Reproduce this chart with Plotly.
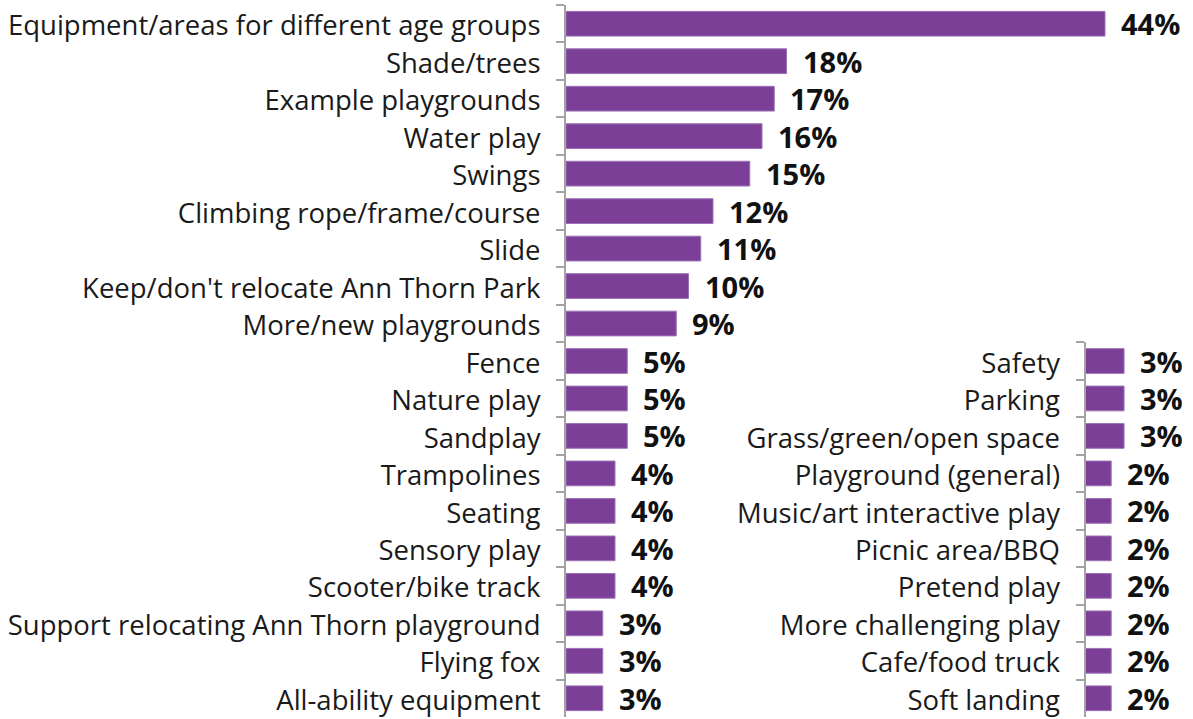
import plotly.graph_objects as go

left_labels = [
    "Equipment/areas for different age groups", "Shade/trees", "Example playgrounds",
    "Water play", "Swings", "Climbing rope/frame/course", "Slide",
    "Keep/don't relocate Ann Thorn Park", "More/new playgrounds", "Fence",
    "Nature play", "Sandplay", "Trampolines", "Seating", "Sensory play",
    "Scooter/bike track", "Support relocating Ann Thorn playground", "Flying fox",
    "All-ability equipment",
]
left_values = [44, 18, 17, 16, 15, 12, 11, 10, 9, 5, 5, 5, 4, 4, 4, 4, 3, 3, 3]

right_labels = [
    "Safety", "Parking", "Grass/green/open space", "Playground (general)",
    "Music/art interactive play", "Picnic area/BBQ", "Pretend play",
    "More challenging play", "Cafe/food truck", "Soft landing",
]
right_values = [3, 3, 3, 2, 2, 2, 2, 2, 2, 2]

W, H = 1193, 719
BAR = "#7C3F98"
GRID = "#A3A3A3"
LABEL_FONT = "Open Sans"
VALUE_FONT = "Open Sans"

fig = go.Figure()
fig.add_trace(go.Bar(
    x=left_values, y=left_labels, orientation="h",
    marker=dict(color=BAR, line=dict(color="#9C72B6", width=1)),
    xaxis="x", yaxis="y", hoverinfo="skip",
))
fig.add_trace(go.Bar(
    x=right_values, y=right_labels, orientation="h",
    marker=dict(color=BAR, line=dict(color="#9C72B6", width=1)),
    xaxis="x2", yaxis="y2", hoverinfo="skip",
))

ann = []
for lab, v in zip(left_labels, left_values):
    ann.append(dict(x=v, y=lab, xref="x", yref="y", text=f"{v}%",
                    showarrow=False, xanchor="left", yanchor="middle", xshift=14, yshift=0,
                    font=dict(family=VALUE_FONT, size=29, color="#111111", weight=700)))
for lab, v in zip(right_labels, right_values):
    ann.append(dict(x=v, y=lab, xref="x2", yref="y2", text=f"{v}%",
                    showarrow=False, xanchor="left", yanchor="middle", xshift=14, yshift=0,
                    font=dict(family=VALUE_FONT, size=29, color="#111111", weight=700)))

x0L = 566 / W
x0R = 1085.5 / W
scaleL = 12.25
scaleR = 12.85

axis_common = dict(
    showline=True, linecolor=GRID, linewidth=2,
    ticks="outside", tickson="boundaries", ticklen=8, tickcolor=GRID, tickwidth=2,
    showgrid=False, zeroline=False, fixedrange=True,
    tickfont=dict(family=LABEL_FONT, size=27.5, color="#1a1a1a"),
    ticklabelstandoff=18, ticklabelshift=-2,
)

fig.update_layout(
    width=W, height=H,
    margin=dict(l=0, r=0, t=5, b=2),
    paper_bgcolor="white", plot_bgcolor="rgba(0,0,0,0)",
    showlegend=False, bargap=0.34,
    xaxis=dict(domain=[x0L, 1.0], range=[0, (W - 566) / scaleL], visible=False,
               anchor="y", fixedrange=True),
    yaxis=dict(domain=[0, 1], anchor="x", range=[len(left_labels) - 0.5, -0.5],
               categoryorder="array", categoryarray=left_labels, **axis_common),
    xaxis2=dict(domain=[x0R, 1.0], range=[0, (W - 1085.5) / scaleR], visible=False,
                anchor="y2", fixedrange=True),
    yaxis2=dict(domain=[0, 10 / 19], anchor="x2", range=[len(right_labels) - 0.5, -0.5],
                categoryorder="array", categoryarray=right_labels, **axis_common),
    annotations=ann,
)

fig.write_html("out.html", config={"displayModeBar": False},
               post_script="document.body.style.margin='0';document.body.style.overflow='hidden';")
